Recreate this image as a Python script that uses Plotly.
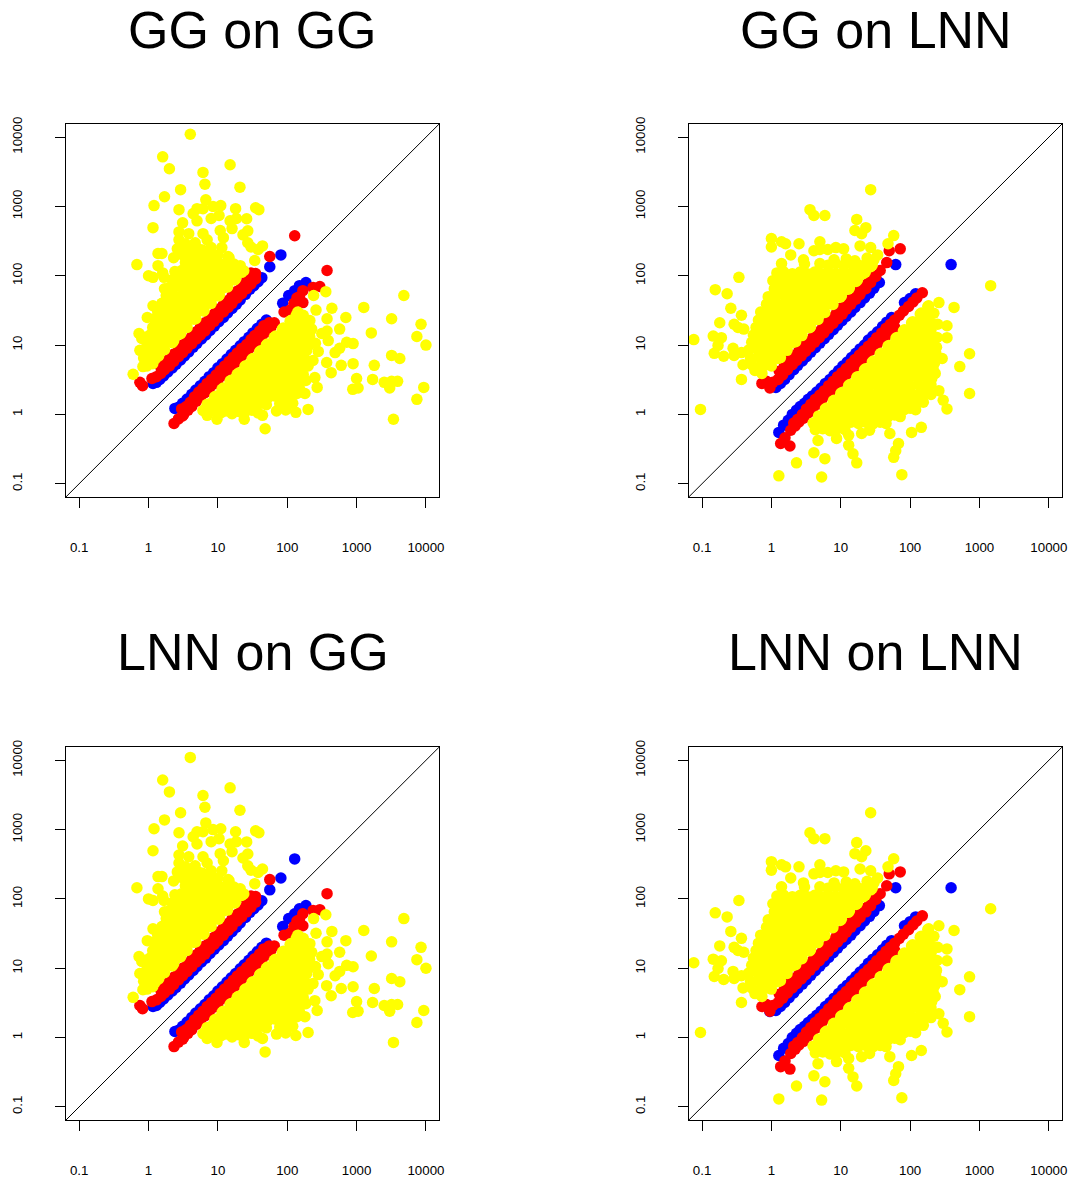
import plotly.graph_objects as go

TITLES = ["GG on GG", "GG on LNN", "LNN on GG", "LNN on LNN"]
TICK_VALUES = [0.1, 1, 10, 100, 1000, 10000]
TICK_LABELS = ["0.1", "1", "10", "100", "1000", "10000"]

gg_yellow_upper = [
 (4,11000),(1.6,5200),(2,3500),(6.1,3100),(15,4000),(6.5,2100),(2.9,1750),(20.8,1900),(1.7,1380),(1.2,1030),
 (6.7,1250),(2.75,900),(1.16,495),(.68,145),(35,960),(39,900),(18,930),(26,665),(27,445),(23,390),(27,300),(34,166),(14.5,182),
 (5,930),(6.1,930),(8.5,1000),(11,1030),(4.4,790),(10.4,740),(8,670),(5,620),(3.1,580),(18.5,670),(15,620),(16,480),
 (10.8,450),(2.75,430),(3.8,405),(6.1,405),(12,355),(2.75,330),(4.7,300),(8,255),(11.4,255),(2.6,245),(1.37,210),(1.56,210),
 (2.3,182),(5.2,245),(3.4,290),(7,330),(1.37,140),(1,100),(1.16,95),(1.6,110),(1.67,95),(1.7,65),(1.16,37),(1.56,40),(.96,25),
 (.73,14.7),(.8,12.5),(.9,13),(.75,8.4),(.92,9),(.83,4.9),(.6,3.8),(30,260),(38,240),(44,270),
 (.95,5),(1.15,5.4),(.85,6.5),(1.1,6.8),(1.25,6.3),(1.4,7),(.85,8.5),(1.05,8.9),(1.3,8.2),(1.6,9),(1.7,8.6),
 (1,11),(1.2,11.6),(1.5,10.6),(1.8,11.3),(2.2,10.8),(2.3,11.5),(1.05,14),(1.3,14.8),(1.6,13.6),(2,14.5),(2.5,13.8),(2.9,14.6),
 (1.15,18),(1.4,19),(1.7,17.5),(2.2,18.5),(2.7,17.8),(3.4,18.6),(3.6,18),(1.2,24),(1.5,25),(1.9,23),(2.3,24.6),(2.9,23.4),(3.6,24.5),(4.5,23.6),(4.8,24),
 (1.35,31),(1.7,32),(2.1,30),(2.6,31.5),(3.2,30.5),(4,32),(5,30.6),(6.3,31.4),(6.2,31),(1.6,40),(2,42),(2.5,39),(3.1,41),(3.9,39.5),(4.8,41),(6,40),(7.5,41),(8,40),
 (1.8,52),(2.2,54),(2.8,50),(3.5,53),(4.4,51),(5.5,53),(7,51),(8.8,53),(10.2,51),(10.5,53),(2,68),(2.5,70),(3.1,66),(3.9,69),(4.9,67),(6.1,69),(7.7,67),(9.6,69),(12,67),(13.8,69),
 (2.2,88),(2.8,91),(3.5,86),(4.4,90),(5.5,87),(6.9,90),(8.6,87),(11,90),(14,87),(18,90),(17.4,87),(2.4,115),(3,119),(3.8,112),(4.8,117),(6,113),(7.5,118),(9.4,114),(12,117),(15,113),(19,118),(22,112),(23.6,118),
 (3.4,155),(4.3,146),(5.4,152),(6.8,148),(8.5,153),(11,148),(14,153),(17,148),(21,140),(3.2,195),(4,202),(5,190),(6.3,198),(8,192),(10,198),(14,190),(3,230),(4,240),(6,235),(7.2,205),
]

gg_yellow_lower = [
 (4800,52),(1270,35),(8500,20),(3200,24),(7400,13.3),(10000,10),(1630,15),(700,25),(440,34),(260,32),(570,17),(890,10.5),(720,11),
 (3200,7.1),(4200,6.4),(1800,5.1),(600,5.1),(890,5.4),(1000,3.3),(1700,3.2),(2500,2.9),(3200,3),(3900,3),(3000,2.4),(880,2.3),(1050,2.4),
 (9300,2.45),(7400,1.65),(3400,.85),(48,.62),(24,.85),(44,.97),(200,1.18),(133,1.07),(9.7,.85),(7,.97),(27,1.3),(360,59),(240,52),(142,30),
 (370,5.6),(430,4),(280,8.1),(212,22.6),(375,24),(375,16),(270,2.45),(180,2),(490,7.8),(570,9),(390,11.6),(315,14.7),(235,6),(250,3.4),(138,2),(120,1.45),(190,8.3),
 (6.1,1.14),(7.5,1.1),(9,1.16),(11,1.05),(13,1.12),(16,1.02),(20,1.1),(24,1.05),(31,1.15),(38,1.05),(70,1.12),(95,1.16),
 (7,1.4),(8,1.45),(10,1.35),(12,1.42),(15,1.36),(18,1.45),(22,1.38),(27,1.42),(33,1.36),(40,1.44),(50,1.38),(78,1.42),(100,1.36),
 (9,1.8),(9.6,1.85),(11,1.75),(13,1.85),(16,1.78),(19,1.84),(24,1.76),(29,1.85),(36,1.78),(44,1.84),(53,1.76),(66,1.85),(85,1.78),(110,1.84),
 (11.5,2.3),(12,2.4),(15,2.25),(18,2.38),(22,2.28),(27,2.36),(33,2.24),(40,2.38),(50,2.28),(60,2.36),(75,2.26),(95,2.38),(120,2.28),(150,2.36),
 (15,3),(15.5,3.1),(17,2.95),(21,3.05),(26,2.95),(32,3.08),(38,2.95),(47,3.05),(58,2.96),(72,3.08),(90,2.95),(115,3.05),(150,2.96),(185,3.08),
 (19,3.8),(20,3.95),(21,3.75),(25,3.9),(30,3.76),(37,3.92),(45,3.74),(55,3.88),(68,3.76),(85,3.92),(105,3.74),(135,3.88),(170,3.76),
 (24.5,4.9),(25.3,5.05),(29,4.8),(36,5),(44,4.82),(53,5.05),(66,4.8),(82,5),(100,4.84),(125,5.05),(160,4.82),(200,5),
 (31,6.2),(32,6.4),(36,6.05),(44,6.35),(54,6.1),(65,6.4),(80,6.1),(100,6.3),(120,6.05),(150,6.35),(185,6.1),
 (40,8),(41.5,8.3),(46,7.8),(56,8.2),(68,7.85),(84,8.25),(105,7.8),(130,8.2),(160,7.85),
 (50,10),(52,10.4),(56,9.8),(68,10.3),(85,9.85),(105,10.3),(130,9.8),(160,10.3),(205,10),(255,10.6),
 (65,13),(68,13.5),(72,12.7),(88,13.4),(110,12.8),(135,13.4),(165,12.8),(210,13.4),
 (85,17),(88,17.6),(95,16.6),(115,17.4),(140,16.7),(175,17.5),(225,17),
 (110,22),(114,22.8),(120,21.5),(150,22.6),(185,21.6),(135,27),(145,29),(170,27),
]

lnn_yellow_upper = [
 (27,1750),(3.6,900),(4.1,740),(5.9,740),(17,650),(23,495),(16,450),(20,405),(58,380),(48,290),(1,345),(1,260),(1.4,310),(1.6,290),(2.5,290),
 (5,310),(4.1,230),(5,240),(6.5,240),(8.5,255),(11,245),(19,270),(27,255),(34,200),(1.9,200),(2.9,170),(.34,95),(.155,63),(.23,55),(.26,34),(.18,21),
 (.37,27),(.29,20),(.145,13.5),(.19,12.8),(.076,12),(.15,7.6),(.17,9.9),(.205,6.9),(.29,7.1),(.28,9),(.37,7.8),(.39,5.2),(.37,3.2),(.4,17),(.33,18),(.095,1.18),
 (.58,4.3),(.73,3.9),(.52,5.2),(.7,5),(.85,5.2),(1,5),(.5,6.5),(.65,6.8),(.8,6.3),(1,6.7),(1.25,6.4),(1.35,6.6),
 (.47,8.5),(.62,8.8),(.8,8.3),(1,8.7),(1.25,8.3),(1.6,8.7),(1.68,8.4),(.52,11),(.65,11.4),(.82,10.7),(1,11.3),(1.3,10.8),(1.6,11.3),(2,10.8),(2.24,11.2),
 (.55,14),(.7,14.5),(.88,13.6),(1.1,14.4),(1.4,13.7),(1.75,14.4),(2.2,13.8),(2.75,14.3),(2.75,13.7),(.6,18),(.75,18.6),(.95,17.5),(1.2,18.5),(1.5,17.6),(1.9,18.5),(2.4,17.7),(3,18.4),(3.55,17.8),(3.66,18.3),
 (.65,23),(.8,23.8),(1,22.5),(1.3,23.6),(1.6,22.6),(2,23.6),(2.5,22.7),(3.2,23.5),(4,22.6),(4.7,23.4),(.7,30),(.9,31),(1.15,29.3),(1.45,30.8),(1.8,29.5),(2.3,30.8),(2.9,29.4),(3.6,30.6),(4.5,29.5),(5.6,30.6),(5.9,29.6),
 (.85,39),(1.1,40),(1.4,38),(1.8,40),(2.2,38.2),(2.8,39.8),(3.5,38.3),(4.4,39.8),(5.5,38.4),(7,39.8),(7.7,38.5),(.9,50),(1.2,52),(1.6,49),(2,51.5),(2.6,49),(3.2,51.5),(4,49),(5,51.5),(6.5,49.2),(8,51.5),(9.8,49),(10.2,51),
 (1.1,65),(1.4,67),(1.8,63.5),(2.3,66.5),(2.9,63.5),(3.7,66.5),(4.6,63.8),(5.8,66.5),(7.3,64),(9,66.5),(11.5,64),(13.3,66.5),(12.8,64),
 (1.05,85),(1.3,88),(1.7,83),(2.1,87),(2.7,83),(3.4,87),(4.3,83),(5.4,87),(6.8,83),(8.5,87),(11,83),(13,87),(16.6,83),(17.4,87),
 (1.2,110),(1.5,114),(2,107),(2.6,113),(3.3,107),(4.2,113),(5.3,107),(6.7,113),(8.5,107),(11,113),(13.5,107),(17,113),(21,107),(22.6,113),
 (1.4,150),(3,148),(5,150),(6.5,142),(8.5,149),(11,142),(14,149),(18,142),(23,149),(28.4,142),(27,135),(8,170),(12,175),(16,165),(24,180),(30,170),
]

lnn_yellow_lower = [
 (1450,72),(430,35),(260,41),(720,7.5),(520,4.9),(720,2),(290,6.4),(340,12.8),(340,19),(250,20),(230,3.9),(260,2.2),(300,1.6),(340,1.2),(145,.65),(105,.55),
 (76,.135),(58,.24),(62,.3),(68,.38),(5.3,.125),(1.28,.13),(2.3,.2),(4.1,.28),(5.9,.23),(17,.2),(15,.27),(13,.36),(13,.5),(8.7,.45),(4.7,.42),(51,.53),(20,.53),(26,.59),
 (4.3,.6),(5.5,.62),(7,.58),(9,.62),(11.5,.6),(4,.75),(5,.78),(6.5,.73),(8.5,.77),(11,.73),(14,.77),(18,.74),(23,.77),(29,.73),(37,.77),(45,.74),
 (4.8,.95),(5.7,.98),(7.2,.93),(9.2,.98),(12,.93),(15,.98),(19,.93),(24,.98),(30,.93),(38,.98),(48,.93),(60,.98),(72,.93),
 (6,1.2),(6.3,1.24),(8,1.17),(10,1.23),(13,1.17),(16,1.23),(20,1.17),(26,1.23),(33,1.17),(41,1.23),(52,1.17),(65,1.23),(82,1.17),(100,1.23),(120,1.17),
 (7.8,1.55),(8,1.6),(10,1.5),(13,1.6),(16,1.5),(20,1.6),(25,1.5),(32,1.6),(40,1.5),(50,1.6),(63,1.5),(80,1.6),(100,1.5),(125,1.6),(155,1.5),
 (10,2),(10.4,2.07),(12.5,1.94),(16,2.06),(20,1.94),(25,2.06),(32,1.94),(40,2.06),(50,1.94),(63,2.06),(80,1.94),(100,2.06),(130,1.94),(165,2.06),(200,1.94),
 (13,2.6),(13.5,2.7),(16,2.52),(20,2.68),(25,2.52),(32,2.68),(40,2.52),(50,2.68),(63,2.52),(80,2.68),(100,2.52),(130,2.68),(165,2.52),(200,2.68),
 (17,3.4),(17.5,3.5),(21,3.3),(26,3.5),(33,3.3),(41,3.5),(52,3.3),(65,3.5),(82,3.3),(103,3.5),(130,3.3),(165,3.5),(205,3.3),
 (22,4.4),(22.8,4.55),(28,4.25),(35,4.5),(44,4.3),(55,4.5),(70,4.3),(88,4.5),(110,4.3),(140,4.5),(175,4.3),(215,4.5),
 (28.5,5.7),(29.5,5.9),(36,5.5),(45,5.85),(57,5.55),(72,5.85),(90,5.55),(115,5.85),(145,5.55),(180,5.85),(225,5.55),
 (37,7.4),(38,7.6),(46,7.2),(58,7.6),(73,7.2),(92,7.6),(115,7.2),(145,7.6),(185,7.2),(235,7.6),
 (48,9.6),(49.5,9.9),(60,9.3),(75,9.9),(95,9.3),(120,9.9),(150,9.3),(190,9.9),(240,9.3),
 (62.5,12.5),(64.5,12.9),(78,12.1),(98,12.9),(125,12.1),(155,12.9),(195,12.1),(245,12.9),
 (80,16),(83,16.6),(100,15.6),(125,16.5),(160,15.6),(200,16.5),(105,21),(109,21.8),(130,20.4),(165,21.7),(205,20.5),(140,28),(145,29),(180,27.2),(220,28.8),(180,36),(185,37),
]

gg_blue_upper = [
 (1.16,2.8),(1.3,2.9),(1.45,3.2),(1.65,3.6),(1.9,4.1),(2.2,4.7),(2.5,5.3),(2.9,6.1),(3.3,7),(3.8,8),(4.4,9.3),(5,10.6),(5.8,12.3),(6.7,14),
 (7.7,16.3),(8.9,18.8),(10.3,21.7),(12,25),(13.8,29),(16,33.7),(18.5,39),(21,45),(25,54),(29,64),(33,72),(38,82),
]
gg_red_upper = [
 (.75,2.9),(.82,2.6),(1.12,3.3),(1.3,3.5),(1.5,3.9),(1.7,4.4),(2,5),(2.3,5.8),(2.7,6.8),(3.1,7.8),(3.6,9),(4.2,10.5),(4.9,12.3),(5.6,14),(6.5,16),
 (7.6,19),(8.8,22),(10,25),(12,30),(14,35),(16,40),(19,48),(22,55),(26,65),(30,76),(35,90),(24.6,106),(30,110),
 (1.5,4.8),(2,6.4),(2.7,8.6),(3.6,11.5),(4.9,15.6),(6.5,21),(8.8,28),(12,38),(16,51),(22,70),(30,96),
 (1.75,5.6),(2.3,7.4),(3.1,10),(4.2,13.4),(5.6,18),(7.6,24.5),(10,33),(14,44),(19,60),(26,83),
]
gg_blue_lower = [
 (2.4,1.22),(2.7,1.27),(3.1,1.45),(3.6,1.67),(4.2,1.95),(4.8,2.25),(5.6,2.6),(6.5,3),(7.5,3.5),(8.7,4),(10,4.7),(11.6,5.4),(13.5,6.3),(15.6,7.3),
 (18,8.4),(21,9.8),(24,11.2),(28,13),(32,15),(37,17.3),(43,20),(50,23),(86,40),(105,52),(128,61),(150,72),(186,80),
]
gg_red_lower = [
 (2.33,.74),(2.7,.86),(3.1,.95),(3,1.2),(3.5,1.3),(4,1.5),(4.6,1.8),(5.3,2.1),(6.1,2.4),(7,2.8),(8.1,3.2),(9.4,3.7),(10.8,4.3),(12.5,5),(14.5,5.8),(16.7,6.7),
 (19,7.7),(22,8.9),(26,10.2),(30,12),(34,13.7),(40,16),(46,19),(55,21),(65,21),(90,30),(110,32),(138,48),(168,61),(168,41),(236,68),(295,70),(125,40),(150,50),
 (3.2,1),(4.2,1.3),(5.6,1.75),(7.5,2.35),(10,3.1),(13.5,4.2),(18,5.6),(24,7.5),(32,10),(43,13.4),(58,18),
 (3.7,1.15),(4.9,1.55),(6.5,2.05),(8.7,2.75),(11.6,3.65),(15.6,4.9),(21,6.5),(28,8.8),(37,11.6),(50,15.5),
]
lnn_blue_upper = [
 (1.16,2.45),(1.35,2.8),(1.55,3.2),(1.8,3.75),(2.1,4.4),(2.4,5.1),(2.8,5.9),(3.2,6.8),(3.7,7.9),(4.3,9.2),(5,10.7),(5.8,12.4),(6.7,14.3),(7.8,16.7),
 (9,19.4),(10.4,22.5),(12,26),(14,30),(16,35),(19,41),(22,48),(26,56),(30,66),(36,80),(62,145),
]
lnn_red_upper = [
 (.73,2.8),(.95,2.4),(1.05,2.9),(1.25,3.2),(1.45,3.7),(1.7,4.4),(2,5.2),(2.3,6),(2.7,7),(3.1,8.1),(3.6,9.4),(4.2,11),(4.9,12.8),(5.7,15),(6.6,17.5),(7.7,20.5),
 (9,24),(10.5,28),(12,33),(14,39),(16.5,46),(19,54),(23,65),(27,80),(32,98),(37,119),(46,155),(50,230),(72,245),
 (.85,3),(1.3,4.2),(1.8,6),(2.5,8.3),(3.4,11.2),(4.7,15.5),(6.4,21),(8.7,29),(12,39),(16,53),(22,73),(30,100),(1.5,6.4),(1.9,7.2),
 (1.55,5.1),(2.15,7.1),(2.9,9.6),(4,13.2),(5.5,18),(7.5,25),(10,34),(14,46),(19,63),(26,86),
]
lnn_blue_lower = [
 (1.28,.55),(1.5,.7),(1.75,.82),(2,1),(2.3,1.15),(2.6,1.3),(3,1.45),(3.4,1.65),(3.9,1.85),(4.5,2.1),(5.2,2.4),(6,2.8),(7,3.2),(8,3.7),(9.3,4.3),(10.7,5),
 (12.4,5.7),(14.3,6.6),(16.5,7.6),(19,8.8),(22,10),(25,11.8),(29,13.5),(34,15.6),(40,18.5),(46,21.4),(54,25),(83,41),(100,47),(120,55),
]
lnn_red_lower = [
 (1.36,.38),(1.85,.35),(1.57,.46),(1.9,.59),(2.1,.75),(2.4,.85),(2.8,1),(3.2,1.2),(3.7,1.4),(4.3,1.65),(5,1.9),(5.8,2.2),(6.7,2.6),(7.8,3),(9,3.5),(10.4,4),
 (12,4.6),(14,5.4),(16,6.2),(18.6,7.2),(21.5,8.3),(25,9.6),(29,11),(33,12.8),(39,15),(45,17.5),(52,20),(60,23),(70,27),(80,31),(95,36),(110,42),(125,48),(150,57),
 (2.2,.68),(2.9,.88),(3.9,1.2),(5.3,1.6),(7.2,2.2),(9.8,3),(13,4),(18,5.5),(24,7.3),(33,10),(45,13.6),(60,18),
 (2.5,.78),(3.4,1.05),(4.6,1.4),(6.2,1.9),(8.5,2.6),(11.5,3.5),(15.5,4.7),(21,6.4),(28,8.6),(38,11.7),(52,16),
]

p1_blue_extra = [(43,94),(56,135),(81,200)]
p1_red_extra = [(35,108),(56,190),(128,378),(375,119)]
p3_blue_extra = [(43,94),(56,135),(81,200),(128,378)]
p3_red_extra = [(35,108),(56,190),(375,119)]
p2_blue_extra = [(390,145)]
p2_red_extra = []
p4_blue_extra = [(390,145),(.95,2.37)]
p4_red_extra = []

panels = [
 (gg_yellow_upper + gg_yellow_lower, gg_blue_upper + gg_blue_lower + p1_blue_extra, gg_red_upper + gg_red_lower + p1_red_extra),
 (lnn_yellow_upper + lnn_yellow_lower, lnn_blue_upper + lnn_blue_lower + p2_blue_extra, lnn_red_upper + lnn_red_lower + p2_red_extra),
 (gg_yellow_upper + gg_yellow_lower, gg_blue_upper + gg_blue_lower + p3_blue_extra, gg_red_upper + gg_red_lower + p3_red_extra),
 (lnn_yellow_upper + lnn_yellow_lower, lnn_blue_upper + lnn_blue_lower + p4_blue_extra, lnn_red_upper + lnn_red_lower + p4_red_extra),
]

W, H = 1071, 1182
M_L, M_R, M_T, M_B = 66, 4, 124, 59
AREA_W, AREA_H = W - M_L - M_R, H - M_T - M_B
X_DOMAINS = [(66, 441), (692, 1067)]
Y_DOMAINS = [(124, 498), (749, 1123)]
TITLE_Y = [30, 654]
TITLE_X = [253.5, 880]
LOG_RANGE = [-1.19, 4.19]
FONT = "Liberation Sans"

fig = go.Figure()
for i, (yellow, blue, red) in enumerate(panels):
    suffix = "" if i == 0 else str(i + 1)
    xa, ya = "x" + suffix, "y" + suffix
    row, col = i // 2, i % 2
    x0, x1 = X_DOMAINS[col]
    y0, y1 = Y_DOMAINS[row]
    ends = [10 ** LOG_RANGE[0], 10 ** LOG_RANGE[1]]
    fig.add_trace(go.Scatter(x=ends, y=ends, xaxis=xa, yaxis=ya, mode="lines",
                             line=dict(color="black", width=1), showlegend=False))
    for pts, colour in ((blue, "#0000FF"), (red, "#FF0000"), (yellow, "#FFFF00")):
        fig.add_trace(go.Scatter(x=[p[0] for p in pts], y=[p[1] for p in pts], xaxis=xa, yaxis=ya,
                                 mode="markers", marker=dict(color=colour, size=11.5, line=dict(width=0)),
                                 showlegend=False))
    common = dict(type="log", range=LOG_RANGE, tickmode="array", tickvals=TICK_VALUES, ticktext=TICK_LABELS,
                  showgrid=False, zeroline=False, showline=True, mirror=True, linecolor="black", linewidth=1,
                  ticks="outside", ticklen=10, tickwidth=1, tickcolor="black",
                  tickfont=dict(family=FONT, size=13.3, color="black"))
    fig.update_layout({
        "xaxis" + suffix: dict(common, domain=[(x0 - M_L) / AREA_W, (x1 - M_L) / AREA_W], anchor=ya, tickangle=0, ticklabelstandoff=28),
        "yaxis" + suffix: dict(common, domain=[(H - M_B - y1) / AREA_H, (H - M_B - y0) / AREA_H], anchor=xa, tickangle=-90, ticklabelstandoff=28),
    })
    fig.add_annotation(text=TITLES[i], xref="paper", yref="paper", x=(TITLE_X[col] - M_L) / AREA_W,
                       y=(H - M_B - TITLE_Y[row]) / AREA_H, xanchor="center", yanchor="middle", showarrow=False,
                       font=dict(family=FONT, size=52, color="black"))

fig.update_layout(width=W, height=H, autosize=False, margin=dict(l=M_L, r=M_R, t=M_T, b=M_B, pad=0),
                  paper_bgcolor="white", plot_bgcolor="white")
fig.write_html("out.html", config=dict(displayModeBar=False),
               post_script="document.body.style.margin='0';document.documentElement.style.overflow='hidden';")
